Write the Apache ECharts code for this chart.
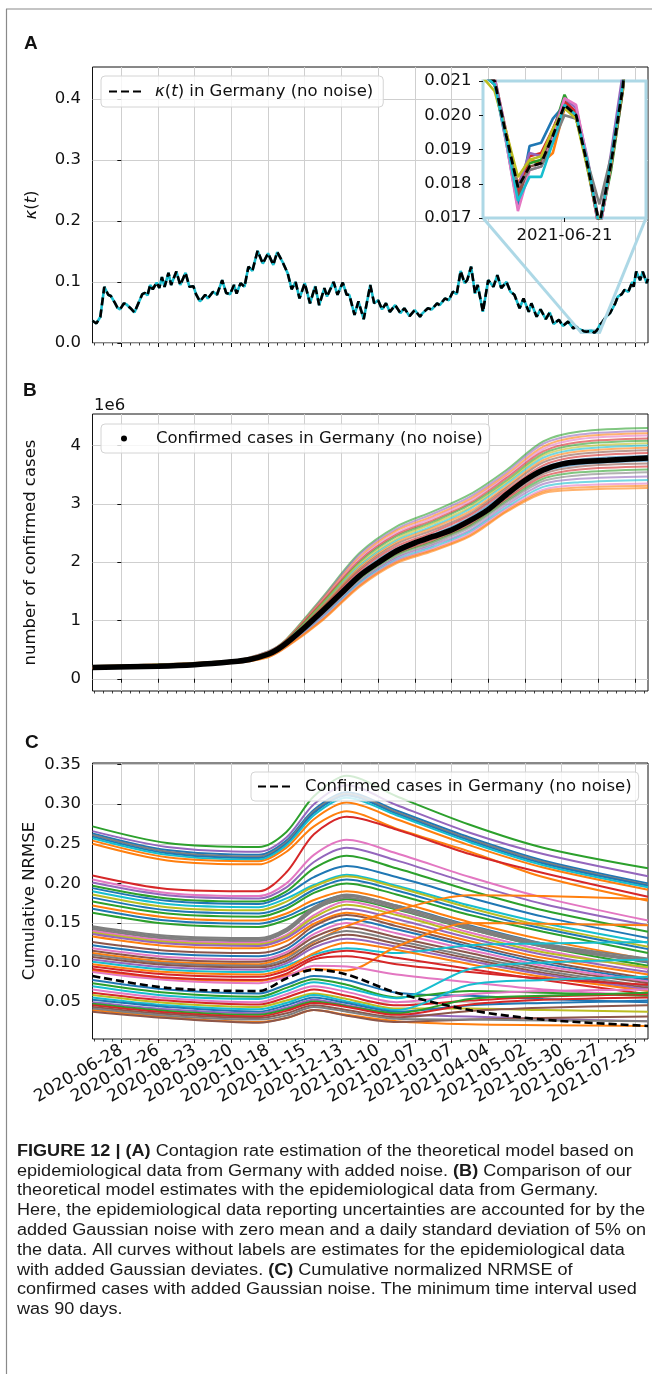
<!DOCTYPE html>
<html>
<head>
<meta charset="utf-8">
<script src="https://cdn.jsdelivr.net/npm/echarts@6.0.0/dist/echarts.min.js"></script>
<style>
html,body{margin:0;padding:0;background:#fff;}
#chart{width:652px;height:1374px;}
</style>
</head>
<body>
<div id="chart"></div>
<script>
// ---------------- DATA (x values are days since 2020-06-28) ----------------
const tickDays = [0,28,56,84,112,140,168,196,224,252,280,308,336,364,392];
const tickLabels = ['2020-06-28','2020-07-26','2020-08-23','2020-09-20','2020-10-18','2020-11-15','2020-12-13','2021-01-10','2021-02-07','2021-03-07','2021-04-04','2021-05-02','2021-05-30','2021-06-27','2021-07-25'];
const xMinDay = -22, xMaxDay = 402;

// Panel A: kappa(t)
const kappaDay = [-22,-19,-16,-13,-10,-8,-5,-3,-1,2,4,7,10,16,18,20,22,24,27,29,31,33,36,38,42,45,49,52,55,57,60,64,66,70,73,77,80,83,86,88,91,94,97,100,104,108,112,116,119,123,127,130,133,136,140,144,148,151,155,157,162,165,169,172,174,178,181,185,190,193,196,199,202,205,209,213,216,220,224,228,230,234,237,241,243,247,250,253,256,259,262,264,267,270,272,276,280,284,287,290,294,297,300,304,307,311,313,317,320,324,327,330,334,337,341,345,347,349,350,351,352,353,354,355,356,357,358,359,360,361,362,363,364,365,367,370,373,377,379,382,384,387,390,391,393,396,398,401,402];
const kappaVal = [.0365,.032,.043,.092,.079,.077,.066,.058,.055,.065,.063,.057,.050,.080,.082,.078,.095,.088,.099,.090,.108,.092,.115,.095,.117,.095,.115,.092,.093,.080,.068,.079,.073,.084,.079,.103,.082,.080,.095,.081,.098,.092,.125,.118,.151,.130,.147,.128,.149,.133,.114,.088,.100,.073,.098,.065,.093,.062,.090,.076,.100,.079,.099,.079,.079,.046,.068,.039,.095,.065,.070,.055,.065,.051,.062,.049,.057,.044,.054,.043,.049,.057,.055,.065,.062,.073,.070,.084,.080,.118,.098,.103,.125,.081,.095,.051,.103,.092,.111,.090,.100,.084,.079,.057,.073,.051,.065,.043,.055,.039,.050,.031,.038,.028,.035,.024,.027,.0232,.0225,.0213,.0210,.0194,.0179,.0185,.0186,.0194,.0203,.0200,.0185,.0168,.0186,.0208,.0245,.029,.034,.043,.049,.065,.076,.080,.087,.084,.100,.092,.117,.103,.117,.098,.105];
const kappaTicks = [0,0.1,0.2,0.3,0.4];

// Panel A inset (2021-06-13 .. 2021-06-28)
const insetDays = [350,351,352,353,354,355,356,357,358,359,360,361,362,363,364,365];
const insetNoise = [
 [.0226,.0212,.0209,.0192,.0173,.0191,.0192,.0199,.0203,.0200,.0184,.0167,.0185,.0208,.0244,.0290],
 [.0224,.0213,.0211,.0195,.0180,.0187,.0186,.0189,.0202,.0201,.0186,.0168,.0187,.0209,.0246,.0291],
 [.0225,.0212,.0210,.0193,.0178,.0186,.0187,.0195,.0206,.0199,.0185,.0167,.0184,.0207,.0243,.0289],
 [.0226,.0214,.0210,.0194,.0177,.0188,.0189,.0196,.0204,.0201,.0185,.0166,.0186,.0208,.0245,.0290],
 [.0225,.0213,.0211,.0195,.0179,.0189,.0188,.0195,.0205,.0202,.0187,.0168,.0189,.0212,.0248,.0292],
 [.0224,.0212,.0209,.0193,.0176,.0185,.0186,.0194,.0202,.0200,.0185,.0167,.0185,.0207,.0244,.0290],
 [.0226,.0213,.0210,.0192,.0172,.0184,.0185,.0193,.0205,.0203,.0186,.0166,.0186,.0209,.0245,.0290],
 [.0225,.0212,.0209,.0194,.0179,.0184,.0185,.0192,.0200,.0199,.0186,.0174,.0188,.0208,.0244,.0289],
 [.0224,.0211,.0207,.0195,.0182,.0187,.0188,.0196,.0202,.0199,.0184,.0168,.0186,.0208,.0244,.0290],
 [.0225,.0212,.0209,.0193,.0175,.0182,.0182,.0192,.0203,.0200,.0186,.0167,.0187,.0209,.0245,.0291]
];
const insetColors = ['#1f77b4','#ff7f0e','#2ca02c','#d62728','#9467bd','#8c564b','#e377c2','#7f7f7f','#bcbd22','#17becf'];
const insetXMin = 351, insetXMax = 365, insetYMin = 0.017, insetYMax = 0.021;
const insetTickDays = [358];
const insetTickLabels = ['2021-06-21'];
const insetYTicks = [0.017,0.018,0.019,0.020,0.021];

// Panel B: confirmed cases (millions)
const bBlackDay = [-22,28,56,84,98,112,119,126,140,154,168,182,196,210,224,238,252,266,280,294,308,322,336,350,371,402];
const bBlackVal = [0.195,0.215,0.24,0.29,0.33,0.42,0.50,0.61,0.88,1.17,1.47,1.77,1.99,2.19,2.33,2.44,2.55,2.71,2.90,3.16,3.40,3.58,3.68,3.72,3.745,3.785];
const bDays = [-22,84,112,126,154,182,210,238,266,294,322,350,402];
const bNoise = [
 [0.22,0.31,0.47,0.68,1.41,2.16,2.61,2.87,3.16,3.58,4.07,4.24,4.30],
 [0.22,0.31,0.47,0.67,1.39,2.13,2.57,2.83,3.12,3.54,4.03,4.19,4.25],
 [0.22,0.31,0.46,0.67,1.37,2.09,2.54,2.79,3.08,3.50,3.98,4.15,4.21],
 [0.21,0.30,0.46,0.66,1.35,2.06,2.50,2.76,3.05,3.47,3.94,4.11,4.17],
 [0.21,0.30,0.45,0.66,1.33,2.03,2.47,2.72,3.01,3.44,3.90,4.06,4.12],
 [0.21,0.30,0.45,0.65,1.31,2.00,2.44,2.69,2.98,3.40,3.86,4.02,4.08],
 [0.21,0.30,0.44,0.64,1.30,1.97,2.40,2.66,2.94,3.37,3.83,3.98,4.04],
 [0.21,0.30,0.44,0.64,1.28,1.94,2.37,2.62,2.91,3.34,3.79,3.94,4.00],
 [0.20,0.30,0.44,0.63,1.26,1.91,2.34,2.59,2.87,3.30,3.75,3.90,3.96],
 [0.20,0.30,0.43,0.63,1.24,1.88,2.31,2.55,2.83,3.27,3.71,3.86,3.92],
 [0.20,0.29,0.43,0.62,1.22,1.85,2.27,2.51,2.80,3.23,3.66,3.81,3.87],
 [0.20,0.29,0.42,0.62,1.20,1.81,2.23,2.47,2.76,3.19,3.62,3.76,3.82],
 [0.19,0.29,0.42,0.60,1.17,1.76,2.18,2.42,2.70,3.14,3.55,3.68,3.74],
 [0.19,0.29,0.41,0.60,1.15,1.75,2.16,2.40,2.67,3.11,3.51,3.64,3.69],
 [0.19,0.29,0.41,0.59,1.13,1.73,2.14,2.37,2.64,3.08,3.47,3.59,3.64],
 [0.19,0.28,0.40,0.58,1.12,1.71,2.12,2.35,2.62,3.05,3.43,3.54,3.59],
 [0.19,0.28,0.40,0.58,1.10,1.68,2.09,2.32,2.59,3.02,3.39,3.49,3.54],
 [0.19,0.28,0.39,0.57,1.08,1.66,2.07,2.29,2.55,2.98,3.34,3.43,3.47],
 [0.18,0.28,0.38,0.56,1.06,1.64,2.04,2.26,2.52,2.94,3.29,3.37,3.41],
 [0.18,0.27,0.38,0.55,1.04,1.61,2.02,2.23,2.49,2.91,3.24,3.32,3.35],
 [0.18,0.27,0.37,0.55,1.02,1.60,2.00,2.21,2.46,2.88,3.21,3.28,3.31],
 [0.18,0.27,0.37,0.54,1.01,1.58,1.98,2.19,2.44,2.86,3.18,3.24,3.27]
];
const bNoiseColors = ['#2ca02c','#9467bd','#ff7f0e','#e377c2','#d62728','#2ca02c','#bcbd22','#17becf','#ff7f0e','#8c564b','#d62728','#1f77b4','#1f77b4','#8c564b','#d62728','#2ca02c','#7f7f7f','#9467bd','#17becf','#e377c2','#ff7f0e','#ff7f0e'];
const bYTicks = [0,1,2,3,4];

// Panel C: cumulative NRMSE
const cDays = [-22,35,105,126,147,172,210,266,322,402];
const cLines = [
 [.272,.251,.246,.265,.310,.336,.310,.274,.245,.219],
 [.266,.246,.240,.258,.300,.324,.299,.264,.237,.209],
 [.263,.242,.236,.254,.293,.315,.292,.258,.229,.200],
 [.261,.240,.234,.252,.291,.313,.290,.256,.227,.198],
 [.259,.238,.232,.250,.289,.311,.288,.254,.225,.197],
 [.257,.236,.230,.248,.286,.308,.286,.252,.223,.195],
 [.254,.233,.228,.245,.281,.302,.281,.248,.220,.192],
 [.250,.229,.224,.240,.272,.291,.269,.240,.208,.178],
 [.210,.193,.190,.214,.262,.284,.268,.237,.213,.183],
 [.205,.188,.184,.200,.236,.255,.238,.208,.182,.153],
 [.201,.185,.181,.195,.227,.245,.229,.200,.174,.147],
 [.197,.181,.177,.190,.219,.235,.219,.191,.166,.139],
 [.194,.178,.174,.186,.208,.222,.208,.182,.158,.131],
 [.190,.174,.170,.181,.198,.211,.197,.172,.150,.125],
 [.186,.170,.166,.177,.196,.209,.195,.169,.146,.120],
 [.182,.166,.162,.172,.192,.205,.191,.165,.143,.117],
 [.177,.162,.158,.168,.188,.200,.186,.160,.139,.112],
 [.172,.157,.153,.162,.179,.190,.177,.151,.129,.104],
 [.168,.153,.149,.158,.174,.185,.172,.147,.124,.100],
 [.163,.149,.145,.154,.169,.180,.167,.142,.120,.096],
 [.146,.134,.131,.143,.170,.186,.172,.146,.124,.105],
 [.144,.132,.129,.141,.168,.184,.170,.144,.122,.103],
 [.142,.130,.127,.139,.166,.182,.168,.142,.120,.101],
 [.140,.128,.125,.135,.160,.177,.163,.138,.116,.092],
 [.138,.126,.123,.133,.157,.173,.160,.135,.113,.094],
 [.136,.124,.121,.131,.153,.168,.155,.131,.110,.088],
 [.133,.121,.118,.127,.149,.163,.150,.127,.106,.085],
 [.126,.115,.112,.121,.146,.160,.146,.123,.102,.080],
 [.122,.111,.108,.117,.141,.155,.142,.120,.099,.078],
 [.118,.107,.104,.113,.136,.150,.137,.116,.096,.076],
 [.115,.104,.101,.110,.132,.145,.132,.112,.093,.074],
 [.112,.101,.098,.108,.126,.146,.166,.185,.184,.180],
 [.110,.099,.096,.105,.127,.140,.128,.108,.090,.070],
 [.107,.097,.094,.102,.123,.135,.124,.105,.087,.068],
 [.104,.094,.091,.099,.119,.130,.120,.102,.085,.066],
 [.101,.091,.088,.096,.110,.118,.112,.122,.124,.126],
 [.098,.088,.085,.093,.112,.125,.116,.098,.082,.064],
 [.095,.085,.082,.090,.107,.115,.106,.092,.078,.060],
 [.090,.080,.077,.084,.092,.090,.120,.150,.149,.147],
 [.088,.078,.074,.082,.096,.095,.085,.075,.066,.058],
 [.092,.081,.078,.086,.104,.108,.098,.088,.080,.072],
 [.078,.066,.061,.072,.083,.078,.062,.058,.054,.050],
 [.074,.062,.057,.068,.079,.072,.056,.064,.062,.058],
 [.070,.058,.054,.064,.075,.068,.055,.092,.100,.104],
 [.066,.055,.050,.060,.070,.063,.050,.060,.064,.066],
 [.062,.052,.047,.056,.066,.058,.046,.052,.057,.060],
 [.059,.049,.044,.052,.061,.054,.042,.042,.040,.038],
 [.056,.046,.041,.049,.059,.051,.040,.072,.078,.082],
 [.053,.044,.038,.046,.056,.049,.038,.046,.049,.052],
 [.050,.041,.036,.043,.053,.046,.035,.032,.029,.026],
 [.048,.039,.034,.041,.051,.045,.036,.054,.058,.062],
 [.046,.037,.032,.039,.049,.044,.034,.047,.053,.056],
 [.044,.035,.030,.036,.046,.040,.031,.039,.043,.046],
 [.040,.031,.025,.030,.040,.034,.026,.022,.021,.020],
 [.038,.030,.024,.030,.040,.033,.025,.028,.030,.032],
 [.042,.033,.028,.033,.044,.038,.029,.028,.027,.026]
];
const cColors = ['#2ca02c','#9467bd','#1f77b4','#7f7f7f','#1f77b4','#17becf','#ff7f0e','#ff7f0e','#d62728','#e377c2','#9467bd','#2ca02c','#1f77b4','#17becf','#bcbd22','#1f77b4','#2ca02c','#ff7f0e','#1f77b4','#2ca02c','#7f7f7f','#7f7f7f','#7f7f7f','#e377c2','#bcbd22','#9467bd','#ff7f0e','#8c564b','#1f77b4','#e377c2','#8c564b','#ff7f0e','#7f7f7f','#8c564b','#9467bd','#17becf','#ff7f0e','#d62728','#ff7f0e','#e377c2','#d62728','#1f77b4','#2ca02c','#17becf','#e377c2','#d62728','#bcbd22','#17becf','#1f77b4','#9467bd','#2ca02c','#d62728','#8c564b','#ff7f0e','#8c564b','#7f7f7f'];
const cBlack = [.083,.068,.064,.080,.091,.085,.062,.040,.028,.020];
const cYTicks = [0.05,0.10,0.15,0.20,0.25,0.30,0.35];

const captionLines = [
 '{b|FIGURE 12 | (A)} Contagion rate estimation of the theoretical model based on',
 'epidemiological data from Germany with added noise. {b|(B)} Comparison of our',
 'theoretical model estimates with the epidemiological data from Germany.',
 'Here, the epidemiological data reporting uncertainties are accounted for by the',
 'added Gaussian noise with zero mean and a daily standard deviation of 5% on',
 'the data. All curves without labels are estimates for the epidemiological data',
 'with added Gaussian deviates. {b|(C)} Cumulative normalized NRMSE of',
 'confirmed cases with added Gaussian noise. The minimum time interval used',
 'was 90 days.'
];

// ---------------- BUILD ----------------
const FONT = 'DejaVu Sans';
const FS = 16.5;
const minorDays = [];
for (let d = -21; d <= 399; d += 7) minorDays.push(d);
const zip = (xs, ys) => xs.map((x, i) => [x, ys[i]]);
const kappaData = zip(kappaDay, kappaVal);

const chart = echarts.init(document.getElementById('chart'), null, {renderer: 'canvas', width: 652, height: 1374});

const gridStyle = {show: true, backgroundColor: '#fff', borderColor: '#111', borderWidth: 1, outerBoundsMode: 'none', containLabel: false};
const grids = [
  Object.assign({left: 92.5, top: 67, width: 555.5, height: 276}, gridStyle),
  Object.assign({left: 483, top: 81, width: 163, height: 137}, gridStyle, {borderColor: '#add8e6', borderWidth: 3, z: 3}),
  Object.assign({left: 92.5, top: 414, width: 555.5, height: 277}, gridStyle),
  Object.assign({left: 92.5, top: 763, width: 555.5, height: 276}, gridStyle)
];

function mainX(gridIndex, showLabels) {
  return {
    type: 'value', gridIndex, min: xMinDay, max: xMaxDay, position: 'bottom',
    axisLine: {show: false},
    axisTick: {show: true, customValues: tickDays, length: 4, lineStyle: {color: '#111', width: 1}},
    axisLabel: {show: showLabels, customValues: tickDays, rotate: 30, margin: 10, fontSize: 17, fontFamily: FONT, color: '#111',
      formatter: v => tickLabels[tickDays.indexOf(Math.round(v))] || ''},
    splitLine: {show: true, lineStyle: {color: '#cfcfcf', width: 1}}
  };
}
function minorX(gridIndex) {
  return {
    type: 'value', gridIndex, min: xMinDay, max: xMaxDay, position: 'bottom',
    axisLine: {show: false}, axisLabel: {show: false}, splitLine: {show: false},
    axisTick: {show: true, customValues: minorDays, length: 2.5, lineStyle: {color: '#111', width: 0.8}}
  };
}
function yAx(gridIndex, min, max, ticks, digits, name, nameGap, extra) {
  return Object.assign({
    type: 'value', gridIndex, min, max,
    axisLine: {show: false},
    axisTick: {show: true, customValues: ticks, length: 4, lineStyle: {color: '#111', width: 1}},
    axisLabel: {customValues: ticks, margin: 11.5, fontSize: FS, fontFamily: FONT, color: '#111', formatter: v => v.toFixed(digits)},
    splitLine: {show: true, lineStyle: {color: '#cfcfcf', width: 1}},
    name, nameLocation: 'middle', nameRotate: 90, nameGap, nameMoveOverlap: false,
    nameTextStyle: {fontSize: FS, fontFamily: FONT, color: '#111',
      rich: {i: {fontStyle: 'italic', fontSize: FS, fontFamily: FONT, color: '#111'}}}
  }, extra || {});
}

const xAxes = [
  mainX(0, false), minorX(0),
  { type: 'value', gridIndex: 1, min: insetXMin, max: insetXMax, position: 'bottom', z: 4,
    axisLine: {show: false},
    axisTick: {show: true, customValues: insetTickDays, length: 4, lineStyle: {color: '#111'}},
    axisLabel: {customValues: insetTickDays, margin: 9, fontSize: FS, fontFamily: FONT, color: '#111',
      formatter: v => insetTickLabels[insetTickDays.indexOf(Math.round(v))] || ''},
    splitLine: {show: false} },
  mainX(2, false), minorX(2),
  mainX(3, true), minorX(3)
];
const yAxes = [
  yAx(0, 0, 0.452, kappaTicks, 1, '{i|κ}({i|t})', 52),
  yAx(1, insetYMin, insetYMax, insetYTicks, 3, '', 0, {z: 4, splitLine: {show: false}}),
  yAx(2, -0.21, 4.54, bYTicks, 0, 'number of confirmed cases', 53),
  yAx(3, 0.0035, 0.352, cYTicks, 2, 'Cumulative NRMSE', 54)
];

const series = [];
// Panel A main
series.push({type: 'line', name: 'kappaNoise', xAxisIndex: 0, yAxisIndex: 0, data: kappaData, symbol: 'none', silent: true, z: 2,
  lineStyle: {color: '#17becf', width: 2.6},
  markArea: {silent: true, itemStyle: {color: 'rgba(0,0,0,0)', borderColor: '#add8e6', borderWidth: 2.5},
    data: [[{coord: [insetXMin, insetYMin]}, {coord: [insetXMax, insetYMax]}]]}});
series.push({type: 'line', name: 'kappa', xAxisIndex: 0, yAxisIndex: 0, data: kappaData, symbol: 'none', silent: true, z: 3,
  lineStyle: {color: '#000', width: 2.6, type: [8, 4]}});
// Inset
insetNoise.forEach((arr, i) => series.push({type: 'line', xAxisIndex: 2, yAxisIndex: 1, data: zip(insetDays, arr), symbol: 'none', silent: true, z: 5,
  lineStyle: {color: insetColors[i], width: 2.6}}));
series.push({type: 'line', xAxisIndex: 2, yAxisIndex: 1, data: kappaData, symbol: 'none', silent: true, z: 6,
  lineStyle: {color: '#000', width: 2.8, type: [8, 4]}});
// Panel B
bNoise.forEach((arr, i) => series.push({type: 'line', xAxisIndex: 3, yAxisIndex: 2, data: zip(bDays, arr), symbol: 'none', silent: true, smooth: 0.3, z: 2,
  lineStyle: {color: bNoiseColors[i], width: 2, opacity: 0.6}}));
series.push({type: 'line', name: 'casesB', xAxisIndex: 3, yAxisIndex: 2, data: zip(bBlackDay, bBlackVal), symbol: 'none', silent: true, smooth: 0.3, z: 3,
  itemStyle: {color: '#000'}, lineStyle: {color: '#000', width: 5.5}});
// Panel C
cLines.forEach((arr, i) => series.push({type: 'line', xAxisIndex: 5, yAxisIndex: 3, data: zip(cDays, arr), symbol: 'none', silent: true, smooth: 0.3, z: 2,
  lineStyle: {color: cColors[i], width: 2}}));
series.push({type: 'line', name: 'nrmseC', xAxisIndex: 5, yAxisIndex: 3, data: zip(cDays, cBlack), symbol: 'none', silent: true, smooth: 0.3, z: 3,
  lineStyle: {color: '#000', width: 2.6, type: [8, 4]}});

const legendBase = {orient: 'horizontal', backgroundColor: 'rgba(255,255,255,0.8)', borderColor: '#d4d4d4', borderWidth: 1, borderRadius: 4,
  selectedMode: false, itemGap: 0, z: 8,
  textStyle: {fontSize: FS, fontFamily: FONT, color: '#111', rich: {i: {fontStyle: 'italic', fontSize: FS, fontFamily: FONT, color: '#111'}}}};
const legends = [
  Object.assign({}, legendBase, {left: 101, top: 76, padding: [7, 10, 7, 7], itemWidth: 34, itemHeight: 14,
    itemStyle: {opacity: 0}, data: ['kappa'], formatter: () => '{i|κ}({i|t}) in Germany (no noise)',
    textStyle: Object.assign({}, legendBase.textStyle, {padding: [0, 0, 0, 7]})}),
  Object.assign({}, legendBase, {left: 101, top: 424, padding: [6, 7, 6, 20], itemWidth: 6, itemHeight: 6,
    data: [{name: 'casesB', icon: 'circle'}], formatter: () => 'Confirmed cases in Germany (no noise)',
    textStyle: Object.assign({}, legendBase.textStyle, {padding: [0, 0, 0, 24]})}),
  Object.assign({}, legendBase, {left: 251, top: 772, padding: [6, 7, 6, 6], itemWidth: 34, itemHeight: 14,
    itemStyle: {opacity: 0}, data: ['nrmseC'], formatter: () => 'Confirmed cases in Germany (no noise)',
    textStyle: Object.assign({}, legendBase.textStyle, {padding: [0, 0, 0, 8]})})
];

chart.setOption({
  animation: false,
  backgroundColor: '#fff',
  textStyle: {fontFamily: FONT},
  grid: grids, xAxis: xAxes, yAxis: yAxes, legend: legends, series
});

// ---------- overlay graphics (frame, panel letters, caption, inset connectors) ----------
const capFont = '"Liberation Sans", Arial, sans-serif';
const capSize = 15.6;
const mctx = document.createElement('canvas').getContext('2d');
mctx.font = capSize + 'px ' + capFont;
const capScale = 628 / mctx.measureText(captionLines[3]).width;

const els = [];
els.push({type: 'line', shape: {x1: 6, y1: 9, x2: 652, y2: 9}, style: {stroke: '#8a8a8a', lineWidth: 1.2}, silent: true});
els.push({type: 'line', shape: {x1: 6.5, y1: 9, x2: 6.5, y2: 1374}, style: {stroke: '#8a8a8a', lineWidth: 1.2}, silent: true});
[['A', 24, 43.5], ['B', 23, 390.5], ['C', 25, 743]].forEach(([t, x, y]) => els.push({type: 'text', x, y, silent: true,
  style: {text: t, font: 'bold 19px "Liberation Sans", Arial, sans-serif', fill: '#111', verticalAlign: 'middle'}}));
els.push({type: 'text', x: 94, y: 406, silent: true, style: {text: '1e6', font: FS + 'px "DejaVu Sans"', fill: '#111', verticalAlign: 'middle'}});
captionLines.forEach((line, k) => els.push({type: 'text', x: 17, y: 1151.5 + 19.8 * k, scaleX: capScale, silent: true,
  style: {text: line, fontSize: capSize, fontFamily: capFont, fill: '#1a1a1a', verticalAlign: 'middle',
    rich: {b: {fontWeight: 'bold', fontSize: capSize, fontFamily: capFont, fill: '#1a1a1a'}}}}));

const mainBL = chart.convertToPixel({xAxisIndex: 0, yAxisIndex: 0}, [insetXMin, insetYMin]);
const mainBR = chart.convertToPixel({xAxisIndex: 0, yAxisIndex: 0}, [insetXMax, insetYMin]);
const insBL = chart.convertToPixel({xAxisIndex: 2, yAxisIndex: 1}, [insetXMin, insetYMin]);
const insBR = chart.convertToPixel({xAxisIndex: 2, yAxisIndex: 1}, [insetXMax, insetYMin]);
els.push({type: 'line', z: 10, silent: true, shape: {x1: insBL[0], y1: insBL[1], x2: mainBL[0], y2: mainBL[1]}, style: {stroke: '#add8e6', lineWidth: 3}});
els.push({type: 'line', z: 10, silent: true, shape: {x1: insBR[0], y1: insBR[1], x2: mainBR[0], y2: mainBR[1]}, style: {stroke: '#add8e6', lineWidth: 3}});

chart.setOption({graphic: [{elements: els}]});
</script>
</body>
</html>
